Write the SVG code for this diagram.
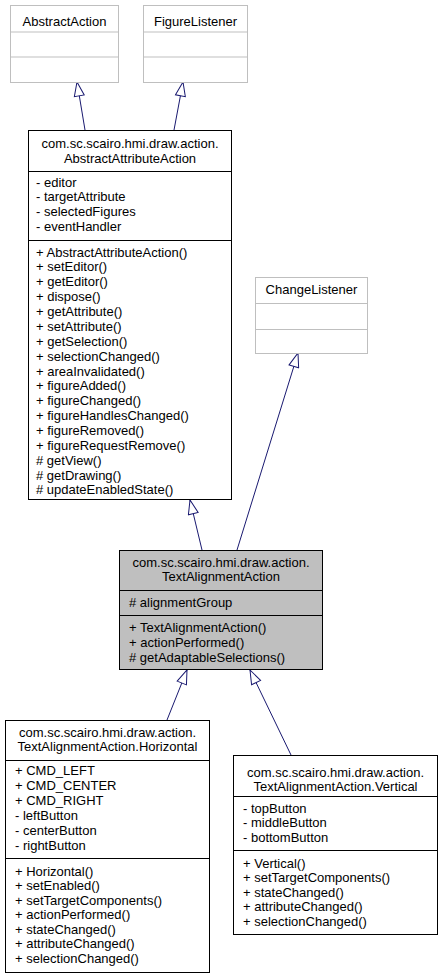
<svg xmlns="http://www.w3.org/2000/svg" width="442" height="977" viewBox="0 0 442 977">
<style>
text{font-family:"Liberation Sans",Arial,sans-serif;font-size:13px;fill:#000}
.c{text-anchor:middle}
.box{fill:#fff;stroke:#000;stroke-width:1}
.gbox{fill:#fff;stroke:#bfbfbf;stroke-width:1}
.sel{fill:#bfbfbf;stroke:#000;stroke-width:1}
.edge{stroke:#191970;stroke-width:1;fill:none;marker-end:url(#tri)}
</style>
<defs>
<marker id="tri" markerUnits="userSpaceOnUse" markerWidth="16" markerHeight="12" refX="14" refY="5" orient="auto" viewBox="-1 -1 16 12">
<path d="M0,0 L14,5 L0,10 z" fill="#fff" stroke="#191970" stroke-width="1"/>
</marker>
</defs>
<g id="connectors">
<line class="edge" x1="85" y1="130" x2="77" y2="82"/>
<line class="edge" x1="174" y1="130" x2="183" y2="82"/>
<line class="edge" x1="237" y1="550" x2="298" y2="353"/>
<line class="edge" x1="202" y1="550" x2="190" y2="500"/>
<line class="edge" x1="167" y1="720" x2="187" y2="670"/>
<line class="edge" x1="291" y1="755" x2="250" y2="670"/>
</g>
<g id="AbstractAction">
<rect class="gbox" x="10.5" y="5.5" width="108" height="77"/>
<line stroke="#bfbfbf" x1="10.5" y1="32" x2="118.5" y2="32"/>
<line stroke="#bfbfbf" x1="10.5" y1="57" x2="118.5" y2="57"/>
<text class="c" x="64.5" y="26">AbstractAction</text>
</g>
<g id="FigureListener">
<rect class="gbox" x="143.5" y="5.5" width="104" height="77"/>
<line stroke="#bfbfbf" x1="143.5" y1="32" x2="247.5" y2="32"/>
<line stroke="#bfbfbf" x1="143.5" y1="57" x2="247.5" y2="57"/>
<text class="c" x="195.5" y="26">FigureListener</text>
</g>
<g id="ChangeListener">
<rect class="gbox" x="255.5" y="277.5" width="112" height="76"/>
<line stroke="#bfbfbf" x1="255.5" y1="303.5" x2="367.5" y2="303.5"/>
<line stroke="#bfbfbf" x1="255.5" y1="329.5" x2="367.5" y2="329.5"/>
<text class="c" x="311.5" y="293.5">ChangeListener</text>
</g>
<g id="AbstractAttributeAction">
<rect class="box" x="28.5" y="130.5" width="203" height="369"/>
<line stroke="#000" x1="28.5" y1="171.5" x2="231.5" y2="171.5"/>
<line stroke="#000" x1="28.5" y1="240.5" x2="231.5" y2="240.5"/>
<text class="c" x="130" y="147.5">com.sc.scairo.hmi.draw.action.</text>
<text class="c" x="130" y="162.5">AbstractAttributeAction</text>
<text x="36" y="186.5">- editor</text>
<text x="36" y="201.3">- targetAttribute</text>
<text x="36" y="216.1">- selectedFigures</text>
<text x="36" y="230.9">- eventHandler</text>
<text x="36" y="256.5">+ AbstractAttributeAction()</text>
<text x="36" y="271.4">+ setEditor()</text>
<text x="36" y="286.2">+ getEditor()</text>
<text x="36" y="301.1">+ dispose()</text>
<text x="36" y="316">+ getAttribute()</text>
<text x="36" y="330.9">+ setAttribute()</text>
<text x="36" y="345.7">+ getSelection()</text>
<text x="36" y="360.6">+ selectionChanged()</text>
<text x="36" y="375.5">+ areaInvalidated()</text>
<text x="36" y="390.3">+ figureAdded()</text>
<text x="36" y="405.2">+ figureChanged()</text>
<text x="36" y="420.1">+ figureHandlesChanged()</text>
<text x="36" y="434.9">+ figureRemoved()</text>
<text x="36" y="449.8">+ figureRequestRemove()</text>
<text x="36" y="464.7"># getView()</text>
<text x="36" y="479.6"># getDrawing()</text>
<text x="36" y="494.4"># updateEnabledState()</text>
</g>
<g id="TextAlignmentAction">
<rect class="sel" x="119.5" y="550.5" width="203" height="119"/>
<line stroke="#000" x1="119.5" y1="590.5" x2="322.5" y2="590.5"/>
<line stroke="#000" x1="119.5" y1="615.5" x2="322.5" y2="615.5"/>
<text class="c" x="221" y="566.5">com.sc.scairo.hmi.draw.action.</text>
<text class="c" x="221" y="580.5">TextAlignmentAction</text>
<text x="129" y="606.5"># alignmentGroup</text>
<text x="129" y="631.5">+ TextAlignmentAction()</text>
<text x="129" y="646.5">+ actionPerformed()</text>
<text x="129" y="661.5"># getAdaptableSelections()</text>
</g>
<g id="Horizontal">
<rect class="box" x="5.5" y="720.5" width="204" height="252"/>
<line stroke="#000" x1="5.5" y1="760.5" x2="209.5" y2="760.5"/>
<line stroke="#000" x1="5.5" y1="858.5" x2="209.5" y2="858.5"/>
<text class="c" x="107.5" y="736.5">com.sc.scairo.hmi.draw.action.</text>
<text class="c" x="107.5" y="750.5">TextAlignmentAction.Horizontal</text>
<text x="15" y="774.5">+ CMD_LEFT</text>
<text x="15" y="789.5">+ CMD_CENTER</text>
<text x="15" y="804.5">+ CMD_RIGHT</text>
<text x="15" y="819.5">- leftButton</text>
<text x="15" y="834.5">- centerButton</text>
<text x="15" y="849.5">- rightButton</text>
<text x="15" y="875.5">+ Horizontal()</text>
<text x="15" y="890">+ setEnabled()</text>
<text x="15" y="904.5">+ setTargetComponents()</text>
<text x="15" y="919">+ actionPerformed()</text>
<text x="15" y="933.5">+ stateChanged()</text>
<text x="15" y="948">+ attributeChanged()</text>
<text x="15" y="962.5">+ selectionChanged()</text>
</g>
<g id="Vertical">
<rect class="box" x="233.5" y="755.5" width="204" height="179"/>
<line stroke="#000" x1="233.5" y1="796.5" x2="437.5" y2="796.5"/>
<line stroke="#000" x1="233.5" y1="850.5" x2="437.5" y2="850.5"/>
<text class="c" x="335.5" y="776.5">com.sc.scairo.hmi.draw.action.</text>
<text class="c" x="335.5" y="791">TextAlignmentAction.Vertical</text>
<text x="243" y="812.5">- topButton</text>
<text x="243" y="827">- middleButton</text>
<text x="243" y="841.5">- bottomButton</text>
<text x="243" y="867.5">+ Vertical()</text>
<text x="243" y="882">+ setTargetComponents()</text>
<text x="243" y="896.5">+ stateChanged()</text>
<text x="243" y="911">+ attributeChanged()</text>
<text x="243" y="925.5">+ selectionChanged()</text>
</g>
</svg>
